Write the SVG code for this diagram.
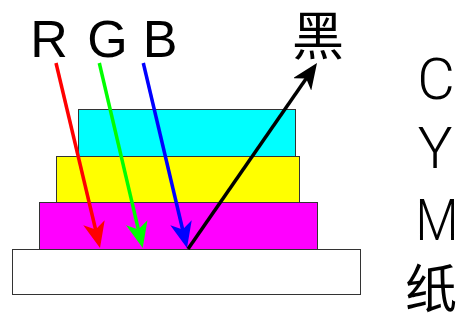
<svg xmlns="http://www.w3.org/2000/svg" width="461" height="320" viewBox="0 0 461 320">
<style>
.layer{stroke:#333;stroke-width:1}
.lbl{font-family:"Liberation Sans",Arial,sans-serif;font-size:52px;fill:#000;text-anchor:middle}
.cmy{font-family:Roboto,"Liberation Sans",sans-serif;font-weight:300;font-size:58px;fill:#000;text-anchor:middle}
.cjk{font-family:"Noto Sans CJK SC","Noto Sans CJK JP",sans-serif;fill:#000;text-anchor:middle}
.ray{stroke-width:3.5;fill:none}
</style>
<defs>
<marker id="ahR" markerUnits="userSpaceOnUse" markerWidth="26" markerHeight="22" viewBox="0 0 26 22" refX="8" refY="11" orient="auto"><path d="M0,0 L26,11 L0,22 L7,11 Z" fill="#ff0000"/></marker>
<marker id="ahG" markerUnits="userSpaceOnUse" markerWidth="26" markerHeight="22" viewBox="0 0 26 22" refX="8" refY="11" orient="auto"><path d="M0,0 L26,11 L0,22 L7,11 Z" fill="#00ff00"/></marker>
<marker id="ahB" markerUnits="userSpaceOnUse" markerWidth="26" markerHeight="22" viewBox="0 0 26 22" refX="8" refY="11" orient="auto"><path d="M0,0 L26,11 L0,22 L7,11 Z" fill="#0000ff"/></marker>
<marker id="ahK" markerUnits="userSpaceOnUse" markerWidth="26" markerHeight="22" viewBox="0 0 26 22" refX="8" refY="11" orient="auto"><path d="M0,0 L26,11 L0,22 L7,11 Z" fill="#000"/></marker>
</defs>
<rect width="461" height="320" fill="#fff"/>
<g id="paper"><rect class="layer" x="12.5" y="249.5" width="348" height="45" fill="#fff"/></g>
<g id="magenta"><rect class="layer" x="39.5" y="202.5" width="278" height="47" fill="#ff00ff"/></g>
<g id="yellow"><rect class="layer" x="56.5" y="156.5" width="243" height="46" fill="#ffff00"/></g>
<g id="cyan"><rect class="layer" x="78.5" y="109.5" width="217" height="47" fill="#00ffff"/></g>
<g id="connectors">
<line class="ray" x1="56" y1="63" x2="95.84" y2="230.49" stroke="#ff0000" marker-end="url(#ahR)"/>
<line class="ray" x1="99.3" y1="63" x2="138.59" y2="230.47" stroke="#00ff00" marker-end="url(#ahG)"/>
<line class="ray" x1="143.3" y1="63" x2="182.86" y2="230.48" stroke="#0000ff" marker-end="url(#ahB)"/>
<line class="ray" x1="188" y1="249" x2="306.74" y2="77.79" stroke="#000" marker-end="url(#ahK)"/>
</g>
<g id="label-R"><text class="lbl" x="49" y="57">R</text></g>
<g id="label-G"><text class="lbl" x="107.5" y="57">G</text></g>
<g id="label-B"><text class="lbl" x="160" y="57">B</text></g>
<g id="label-black"><text class="cjk" x="318" y="55" font-size="52">黑</text></g>
<g id="label-C"><text class="cmy" x="436" y="99">C</text></g>
<g id="label-Y"><text class="cmy" x="435" y="168">Y</text></g>
<g id="label-M"><text class="cmy" x="437" y="240" textLength="43" lengthAdjust="spacingAndGlyphs">M</text></g>
<g id="label-paper"><text class="cjk" x="431" y="308" font-size="52">纸</text></g>
</svg>
